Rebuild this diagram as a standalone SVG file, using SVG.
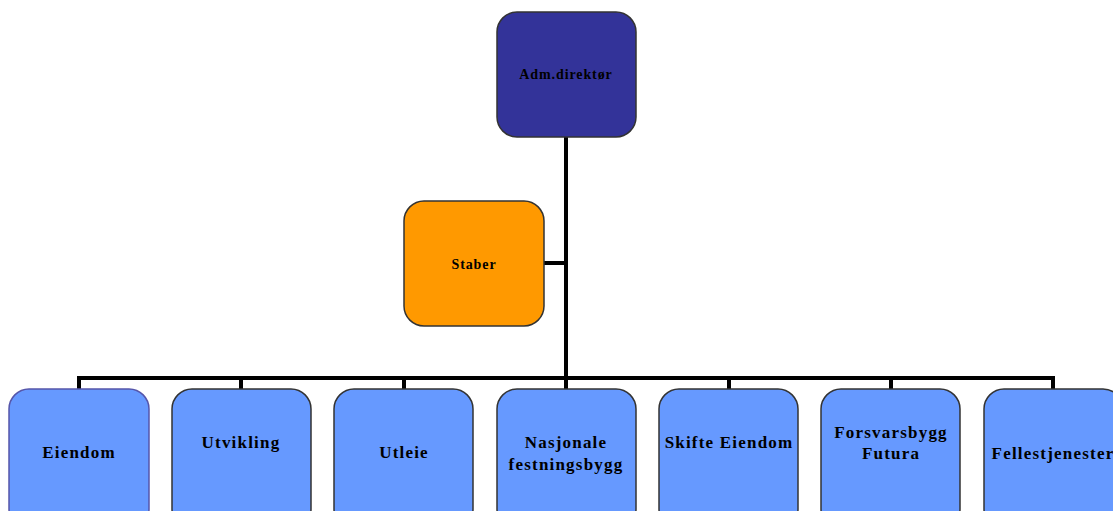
<svg xmlns="http://www.w3.org/2000/svg" width="1113" height="511" viewBox="0 0 1113 511">
<style>
.box{stroke:#333;stroke-width:1.5}
.top{fill:#333399}
.stab{fill:#FF9900}
.unit{fill:#6699FF}
text{font-family:"Liberation Serif","Times New Roman",serif;font-weight:bold;fill:#000;text-anchor:middle}
.s{font-size:14px;letter-spacing:0.9px}
.b{font-size:17px;letter-spacing:1.2px}
.c{stroke:#000;stroke-width:4;fill:none}
</style>
<rect width="1113" height="511" fill="#fff"/>
<g id="connectors">
<line class="c" x1="566" y1="137" x2="566" y2="380"/>
<line class="c" x1="544" y1="263" x2="566" y2="263"/>
<line class="c" x1="77" y1="378" x2="1055" y2="378"/>
<line class="c" x1="79" y1="376" x2="79" y2="389"/>
<line class="c" x1="241" y1="376" x2="241" y2="389"/>
<line class="c" x1="404" y1="376" x2="404" y2="389"/>
<line class="c" x1="566" y1="376" x2="566" y2="389"/>
<line class="c" x1="729" y1="376" x2="729" y2="389"/>
<line class="c" x1="891" y1="376" x2="891" y2="389"/>
<line class="c" x1="1053" y1="376" x2="1053" y2="389"/>
</g>
<g id="adm"><rect class="box top" x="497" y="12" width="139" height="125" rx="20"/><text class="s" x="566" y="79">Adm.direktør</text></g>
<g id="staber"><rect class="box stab" x="404" y="201" width="140" height="125" rx="20"/><text class="s" x="474" y="269">Staber</text></g>
<g id="eiendom"><rect class="box unit" x="9" y="389" width="140" height="140" rx="20" style="stroke:#5555aa"/><text class="b" x="79" y="458">Eiendom</text></g>
<g id="utvikling"><rect class="box unit" x="172" y="389" width="139" height="140" rx="20"/><text class="b" x="241" y="448">Utvikling</text></g>
<g id="utleie"><rect class="box unit" x="334" y="389" width="139" height="140" rx="20"/><text class="b" x="404" y="458">Utleie</text></g>
<g id="nasjonale"><rect class="box unit" x="497" y="389" width="139" height="140" rx="20"/><text class="b" x="566" y="448">Nasjonale</text><text class="b" x="566" y="470">festningsbygg</text></g>
<g id="skifte"><rect class="box unit" x="659" y="389" width="139" height="140" rx="20"/><text class="b" x="729" y="448">Skifte Eiendom</text></g>
<g id="futura"><rect class="box unit" x="821" y="389" width="139" height="140" rx="20"/><text class="b" x="891" y="438">Forsvarsbygg</text><text class="b" x="891" y="459">Futura</text></g>
<g id="felles"><rect class="box unit" x="984" y="389" width="139" height="140" rx="20"/><text class="b" x="1053" y="459">Fellestjenester</text></g>
</svg>
